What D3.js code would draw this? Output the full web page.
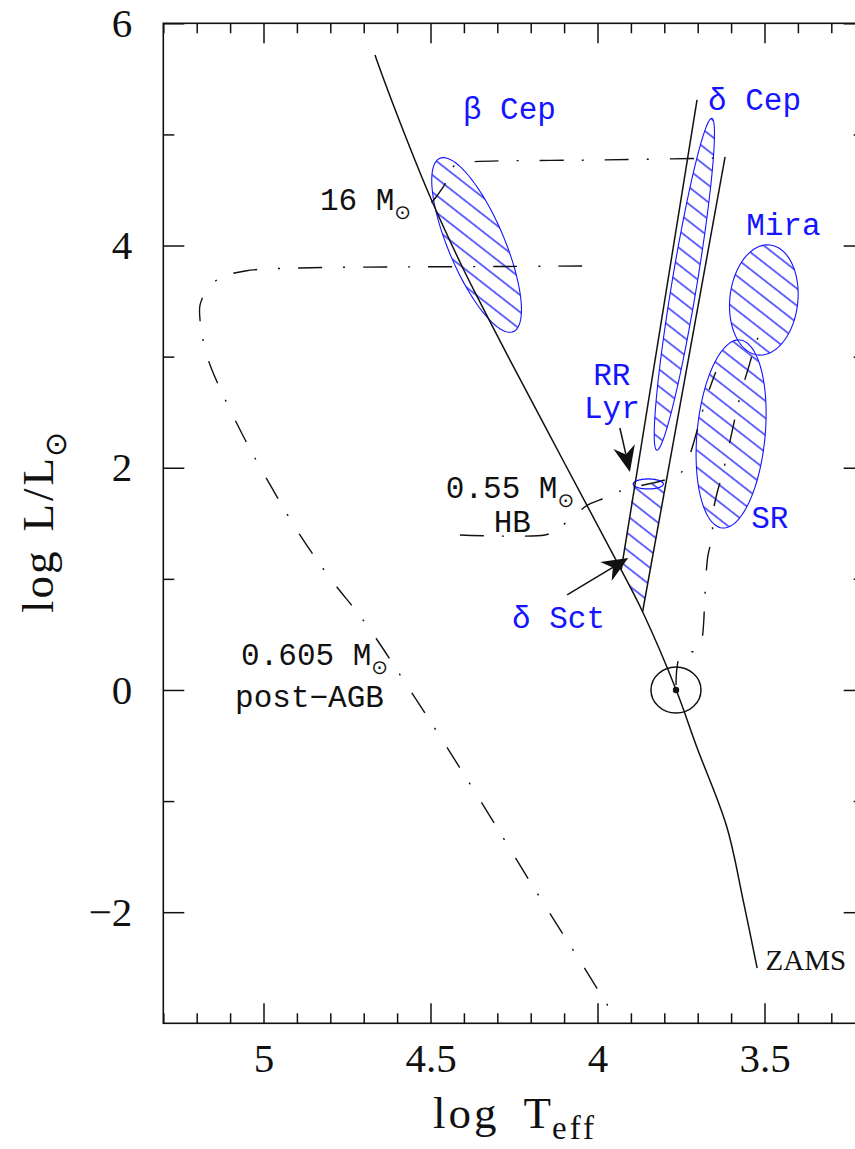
<!DOCTYPE html>
<html><head><meta charset="utf-8">
<script src="https://cdn.jsdelivr.net/npm/d3@7"></script>
<style>body{margin:0;background:#fff}</style>
</head><body>
<svg id="c" width="855" height="1149" xmlns="http://www.w3.org/2000/svg"></svg>
<script>
// ---------------- data (log Teff, log L/Lsun) ----------------
const xMajorTicks = [5, 4.5, 4, 3.5];
const yMajorTicks = [6, 4, 2, 0, -2];
const xMinorTicks = d3.range(32, 54).map(d => d / 10).filter(d => Math.round(d * 10) % 5 !== 0);
const yMinorTicks = [5, 3, 1, -1];

const zams = [[4.666,5.715],[4.661,5.670],[4.567,4.923],[4.497,4.410],[4.405,3.809],[4.335,3.392],
  [4.262,2.969],[4.101,2.054],[3.929,1.080],[3.865,0.704],[3.765,0.005],[3.703,-0.511],[3.613,-1.231],[3.564,-1.891],[3.522,-2.503]];
const blueEdge = [[3.702,5.310],[3.929,1.080]];
const redEdge  = [[3.618,4.797],[3.865,0.704]];
const deltaSctRegion = [[3.891,1.854],[3.796,1.854],[3.865,0.704],[3.929,1.080]];

const track16 = [[4.497,4.385],[4.481,4.446],[4.460,4.536],[4.445,4.626],[4.436,4.698],[4.418,4.734],[4.382,4.752],[3.993,4.770],[3.613,4.788]];
const trackPostAGB = [[4.046,3.816],[4.292,3.811],[4.591,3.807],[4.891,3.798],[5.055,3.771],[5.130,3.708],[5.169,3.600],[5.190,3.465],
  [5.190,3.330],[5.181,3.150],[5.160,2.925],[5.070,2.340],[4.980,1.845],[4.891,1.395],[4.801,1.008],[4.691,0.585],[4.552,-0.045],
  [4.480,-0.378],[4.352,-0.990],[4.181,-1.827],[4.043,-2.484],[3.939,-2.988]];
const trackHB = [[4.412,1.395],[4.158,1.395],[4.128,1.431],[4.077,1.548],[4.029,1.665],[3.993,1.710],[3.939,1.782],[3.874,1.836],
  [3.799,1.890],[3.748,1.962],[3.724,2.115],[3.703,2.322],[3.673,2.637],[3.646,2.862]];
const track1 = [[3.765,0.045],[3.762,0.198],[3.753,0.306],[3.729,0.342],[3.699,0.351],[3.688,0.441],[3.682,0.612],[3.679,0.810],
  [3.670,1.197],[3.657,1.377],[3.654,1.593],[3.642,1.773],[3.625,1.953],[3.598,2.313],[3.583,2.520],[3.568,2.700],[3.550,2.880],[3.535,3.033],[3.514,3.222]];

// ellipses: [centre logT, centre logL, semi-axis 1 (dlogT, dlogL), conjugate semi-axis 2 (dlogT, dlogL)]
const betaCepEllipse  = [4.362, 4.005, 0.1099, 0.780, -0.0772, 0.0981];
const deltaCepEllipse = [3.740, 3.652, -0.0823, 1.493, -0.0369, -0.0184];
const miraEllipse     = [3.502, 3.510, -0.018, 0.495, -0.1012, -0.0333];
const srEllipse       = [3.600, 2.304, -0.0263, 0.846, -0.1015, -0.0288];
const rrLyrEllipse    = [3.848, 1.854, -0.0449, 0.0, 0.0, 0.045];

const sun = [3.765, 0.0];
const arrowRRLyr    = [[3.933,2.358],[3.903,1.962]];
const arrowDeltaSct = [[4.091,0.855],[3.908,1.187]];

const blueLabels = [
  {t:"β Cep", p:[4.403,5.139], a:"start"},
  {t:"δ Cep", p:[3.669,5.220], a:"start"},
  {t:"Mira",  p:[3.555,4.095], a:"start"},
  {t:"RR",    p:[3.957,2.745], a:"middle"},
  {t:"Lyr",   p:[3.957,2.448], a:"middle"},
  {t:"SR",    p:[3.540,1.455], a:"start"},
  {t:"δ Sct", p:[4.256,0.558], a:"start"}
];
const blackLabels = [
  {t:"16 M", sun:true, p:[4.831,4.320], a:"start"},
  {t:"0.55 M", sun:true, p:[4.454,1.728], a:"start"},
  {t:"HB", p:[4.255,1.424], a:"middle"},
  {t:"0.605 M", sun:true, p:[5.067,0.225], a:"start"},
  {t:"post\u2212AGB", p:[5.085,-0.151], a:"start"}
];
const zamsLabel = {t:"ZAMS", p:[3.497,-2.52]};

// ---------------- drawing ----------------
const svg = d3.select("#c");
const x = d3.scaleLinear().domain([5.3, 3.2]).range([163.3, 864.7]);
const y = d3.scaleLinear().domain([-3, 6]).range([1023.3, 23.3]);
const BLUE = "#1414ff";
const MONO = "'Liberation Mono', monospace";
const SERIF = "'Liberation Serif', 'DejaVu Serif', serif";

const defs = svg.append("defs");
const pat = defs.append("pattern").attr("id","hatch").attr("patternUnits","userSpaceOnUse")
  .attr("width",30).attr("height",13.5).attr("patternTransform","rotate(38)");
pat.append("line").attr("x1",0).attr("x2",30).attr("y1",6.75).attr("y2",6.75)
  .attr("stroke",BLUE).attr("stroke-width",1.3);
defs.append("clipPath").attr("id","frameClip").append("rect")
  .attr("x",x(5.3)).attr("y",y(6)).attr("width",x(3.2)-x(5.3)).attr("height",y(-3)-y(6));

const line = d3.line().x(d => x(d[0])).y(d => y(d[1]));
const smooth = d3.line().x(d => x(d[0])).y(d => y(d[1])).curve(d3.curveCatmullRom.alpha(0.5));

function ellipsePts(e){
  const pts = [];
  for (let i = 0; i < 120; i++){
    const t = i / 120 * 2 * Math.PI;
    pts.push([e[0] + Math.cos(t)*e[2] + Math.sin(t)*e[4], e[1] + Math.cos(t)*e[3] + Math.sin(t)*e[5]]);
  }
  return pts;
}
const closed = d3.line().x(d => x(d[0])).y(d => y(d[1])).curve(d3.curveLinearClosed);

const plot = svg.append("g").attr("clip-path","url(#frameClip)");

// hatched regions
[betaCepEllipse, deltaCepEllipse, miraEllipse, srEllipse].forEach(e => {
  plot.append("path").attr("d", closed(ellipsePts(e))).attr("fill","url(#hatch)")
    .attr("stroke",BLUE).attr("stroke-width",1.1);
});
plot.append("path").attr("d", closed(deltaSctRegion)).attr("fill","url(#hatch)").attr("stroke","none");

// tracks (dash-dot)
const dashDot = "24,18,2,21";
[track16, trackPostAGB, trackHB, track1].forEach(tr => {
  plot.append("path").attr("d", smooth(tr)).attr("fill","none").attr("stroke","#111")
    .attr("stroke-width",1.4).attr("stroke-dasharray",dashDot);
});

// RR Lyr small ellipse
plot.append("path").attr("d", closed(ellipsePts(rrLyrEllipse))).attr("fill","none")
  .attr("stroke",BLUE).attr("stroke-width",1.3);

// ZAMS and instability strip edges
plot.append("path").attr("d", smooth(zams)).attr("fill","none").attr("stroke","#111").attr("stroke-width",1.5);
[blueEdge, redEdge].forEach(l => plot.append("path").attr("d", line(l)).attr("fill","none")
  .attr("stroke","#111").attr("stroke-width",1.5));

// Sun symbol
plot.append("ellipse").attr("cx",x(sun[0])).attr("cy",y(sun[1])).attr("rx",25).attr("ry",23)
  .attr("fill","none").attr("stroke","#111").attr("stroke-width",1.5);
plot.append("circle").attr("cx",x(sun[0])).attr("cy",y(sun[1])).attr("r",3.2).attr("fill","#111");

// arrows
function arrow(a){
  const x0 = x(a[0][0]), y0 = y(a[0][1]), x1 = x(a[1][0]), y1 = y(a[1][1]);
  const dx = x1 - x0, dy = y1 - y0, L = Math.hypot(dx, dy), ux = dx / L, uy = dy / L;
  const px = -uy, py = ux, hl = 26, hw = 11, notch = 18;
  svg.append("line").attr("x1",x0).attr("y1",y0).attr("x2",x1 - ux*notch).attr("y2",y1 - uy*notch)
    .attr("stroke","#111").attr("stroke-width",1.5);
  const pts = [[x1,y1],[x1 - ux*hl + px*hw, y1 - uy*hl + py*hw],[x1 - ux*notch, y1 - uy*notch],[x1 - ux*hl - px*hw, y1 - uy*hl - py*hw]];
  svg.append("path").attr("d","M"+pts.map(p=>p.join(",")).join("L")+"Z").attr("fill","#111");
}
arrow(arrowRRLyr); arrow(arrowDeltaSct);

// labels
blueLabels.forEach(l => {
  svg.append("text").attr("x",x(l.p[0])).attr("y",y(l.p[1])).attr("text-anchor",l.a)
    .attr("font-family",MONO).attr("font-size",31).attr("fill",BLUE).text(l.t);
});
blackLabels.forEach(l => {
  const t = svg.append("text").attr("x",x(l.p[0])).attr("y",y(l.p[1])).attr("text-anchor",l.a)
    .attr("font-family",MONO).attr("font-size",31).attr("fill","#111");
  t.append("tspan").text(l.t);
  if (l.sun) t.append("tspan").attr("font-family","'DejaVu Sans'").attr("font-size",20).attr("dy",9).text("\u2299");
});
svg.append("text").attr("x",x(zamsLabel.p[0])).attr("y",y(zamsLabel.p[1]))
  .attr("font-family",SERIF).attr("font-size",29).attr("fill","#111").text(zamsLabel.t);

// frame
svg.append("rect").attr("x",x(5.3)).attr("y",y(6)).attr("width",x(3.2)-x(5.3)).attr("height",y(-3)-y(6))
  .attr("fill","none").attr("stroke","#111").attr("stroke-width",1.6);

// axes
function styleAxis(g){
  g.select(".domain").remove();
  g.selectAll(".tick line").attr("stroke","#111").attr("stroke-width",1.5);
  g.selectAll(".tick text").attr("font-family",SERIF).attr("font-size",41).attr("fill","#111");
}
const fmt = d3.format("");
svg.append("g").attr("transform",`translate(0,${y(-3)})`)
  .call(d3.axisBottom(x).tickValues(xMajorTicks).tickSizeInner(-20).tickSizeOuter(0).tickPadding(20).tickFormat(fmt)).call(styleAxis);
svg.append("g").attr("transform",`translate(0,${y(-3)})`)
  .call(d3.axisBottom(x).tickValues(xMinorTicks).tickSizeInner(-10).tickSizeOuter(0).tickFormat("")).call(styleAxis);
svg.append("g").attr("transform",`translate(0,${y(6)})`)
  .call(d3.axisTop(x).tickValues(xMajorTicks).tickSizeInner(-20).tickSizeOuter(0).tickFormat("")).call(styleAxis);
svg.append("g").attr("transform",`translate(0,${y(6)})`)
  .call(d3.axisTop(x).tickValues(xMinorTicks).tickSizeInner(-10).tickSizeOuter(0).tickFormat("")).call(styleAxis);
svg.append("g").attr("transform",`translate(${x(5.3)},0)`)
  .call(d3.axisLeft(y).tickValues(yMajorTicks).tickSizeInner(-21).tickSizeOuter(0).tickPadding(31).tickFormat(fmt)).call(styleAxis);
svg.append("g").attr("transform",`translate(${x(5.3)},0)`)
  .call(d3.axisLeft(y).tickValues(yMinorTicks).tickSizeInner(-11).tickSizeOuter(0).tickFormat("")).call(styleAxis);
svg.append("g").attr("transform",`translate(${x(3.2)},0)`)
  .call(d3.axisRight(y).tickValues(yMajorTicks).tickSizeInner(-21).tickSizeOuter(0).tickFormat("")).call(styleAxis);
svg.append("g").attr("transform",`translate(${x(3.2)},0)`)
  .call(d3.axisRight(y).tickValues(yMinorTicks).tickSizeInner(-11).tickSizeOuter(0).tickFormat("")).call(styleAxis);

// axis titles
const xt = svg.append("text").attr("x",433).attr("y",1128)
  .attr("font-family",SERIF).attr("font-size",45).attr("fill","#111");
xt.append("tspan").attr("letter-spacing",3).text("log");
xt.append("tspan").attr("dx",24).text("T");
xt.append("tspan").attr("font-size",33).attr("letter-spacing",3).attr("dy",11).attr("dx",1).text("eff");

const yt = svg.append("text").attr("transform",`translate(53,613) rotate(-90)`)
  .attr("font-family",SERIF).attr("font-size",45).attr("fill","#111");
yt.append("tspan").attr("letter-spacing",2).text("log");
yt.append("tspan").attr("dx",18).attr("letter-spacing",3).text("L/L");
yt.append("tspan").attr("font-family","'DejaVu Sans'").attr("font-size",30).attr("dy",13).attr("dx",-2).text("\u2299");
</script>
</body></html>
